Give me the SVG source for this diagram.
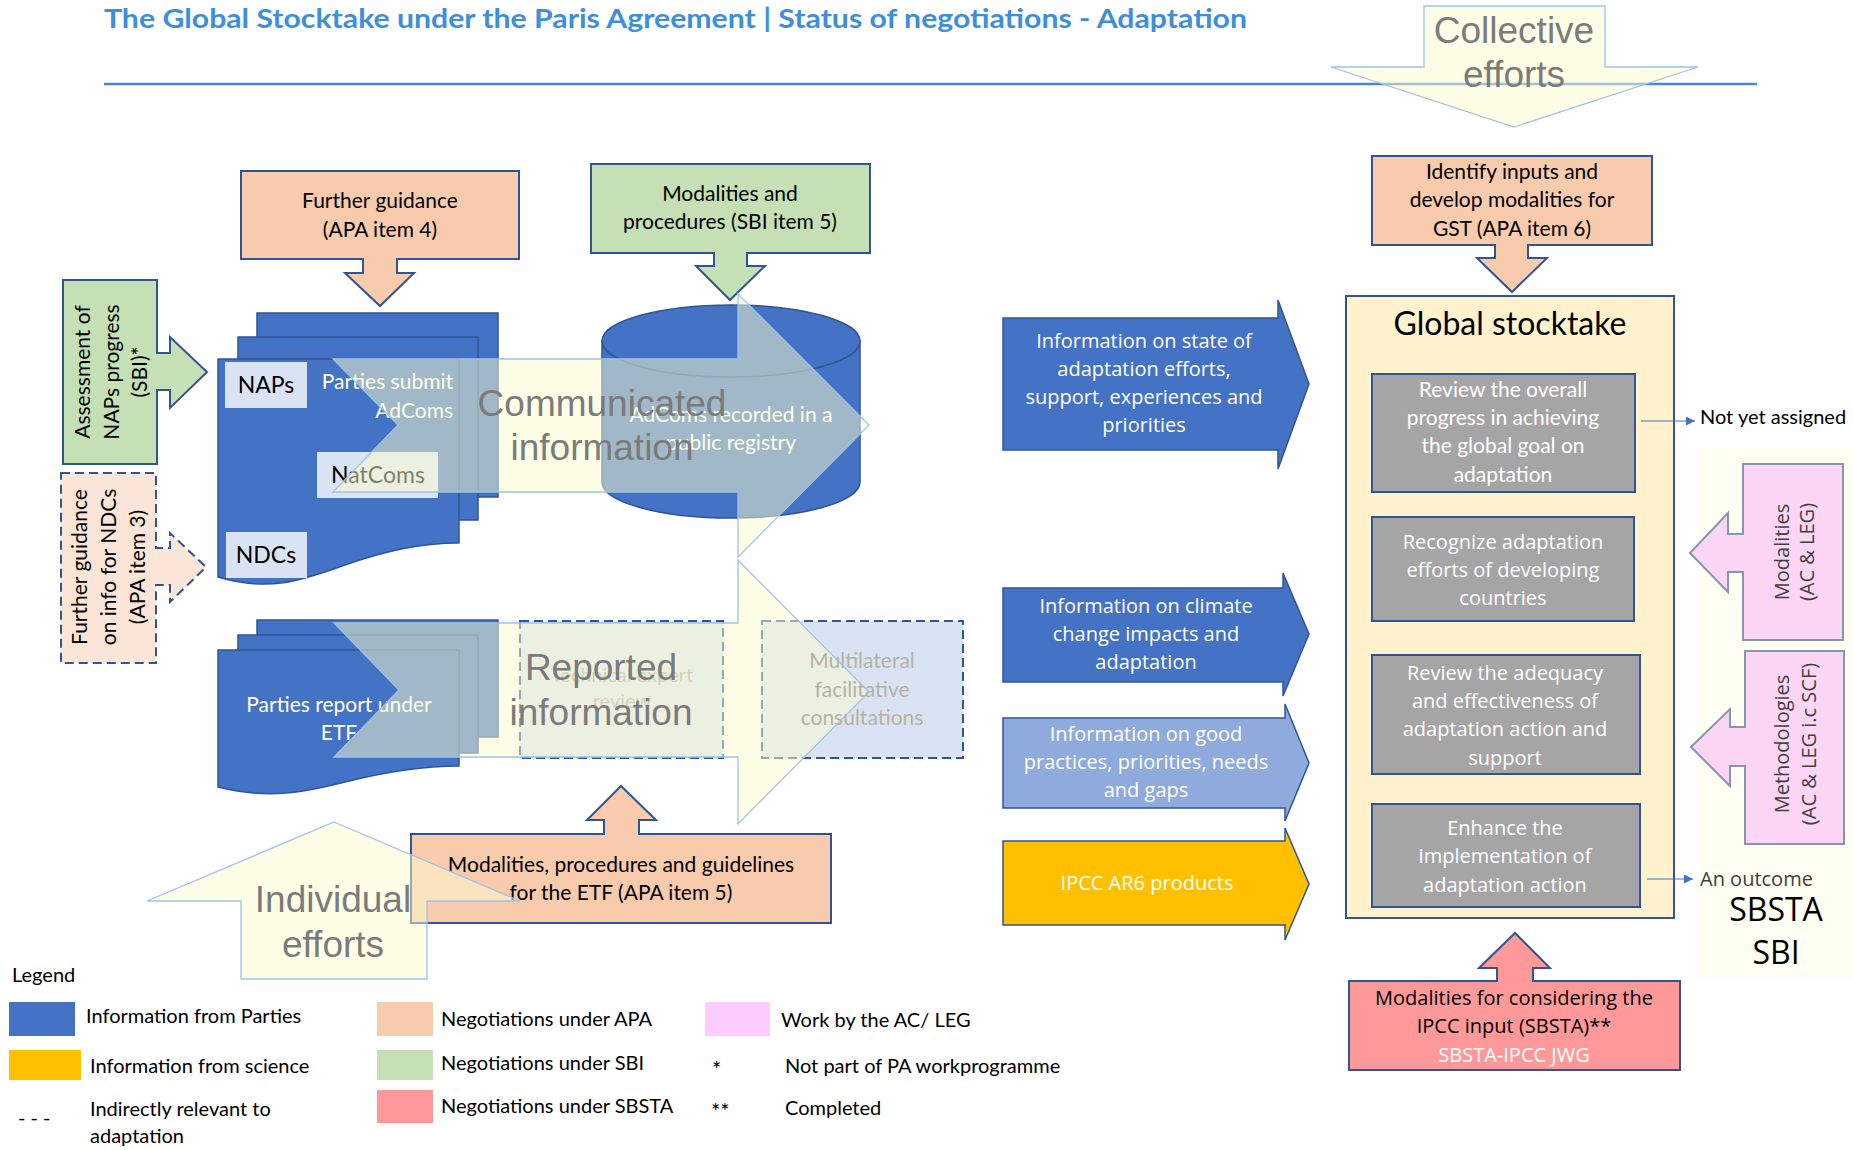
<svg xmlns="http://www.w3.org/2000/svg" width="1853" height="1150" viewBox="0 0 1853 1150">
<style>
.cal{font-family:Lato,"Liberation Sans",sans-serif}
.seg{font-family:"Open Sans","Liberation Sans",sans-serif}
.ar{font-family:"Liberation Sans",Arial,sans-serif}
.apa{fill:#f8cbad;stroke:#2f5597;stroke-width:2}
.sbi{fill:#c5e0b4;stroke:#2f5597;stroke-width:2}
.sbsta{fill:#ff9999;stroke:#2f5597;stroke-width:2}
.apad{fill:#fbe5d6;stroke:#2f5597;stroke-width:2;stroke-dasharray:9 5}
.doc{fill:#4472c4;stroke:#2f5597;stroke-width:1.5}
.lbl{fill:#dae3f3}
.dash{fill:#dae3f3;stroke:#2f5597;stroke-width:2;stroke-dasharray:9 5}
.ylw{fill:#fdfdcd;fill-opacity:.5;stroke:#9dc3e6;stroke-width:1.3}
.big{font-family:"Liberation Sans",Arial,sans-serif;font-size:37px;fill:#7b7b7b;text-anchor:middle}
.gry{fill:#a5a5a5;stroke:#2f5597;stroke-width:2}
.pink{fill:#fcd6f4;stroke:#8496b0;stroke-width:2}
.t20{font-size:20px}
.t21{font-size:21px}
.mid{text-anchor:middle}
.wt{fill:#ffffff}
.bk{fill:#000000}
</style>

<g id="title">
<text x="104" y="28" class="cal" font-size="26" font-weight="bold" fill="#3d8edb" textLength="1143" lengthAdjust="spacingAndGlyphs">The Global Stocktake under the Paris Agreement | Status of negotiations - Adaptation</text>
<line x1="104" y1="84" x2="1757" y2="84" stroke="#4a86d6" stroke-width="2.5"/>
</g>

<g id="legend" class="cal t20 bk">
<text x="12" y="982">Legend</text>
<rect x="9" y="1002" width="66" height="34" fill="#4472c4"/>
<text x="86" y="1023">Information from Parties</text>
<rect x="9" y="1050" width="72" height="30" fill="#ffc000"/>
<text x="90" y="1073">Information from science</text>
<text x="18" y="1125">- - -</text>
<text x="90" y="1116">Indirectly relevant to</text>
<text x="90" y="1143">adaptation</text>
<rect x="377" y="1002" width="56" height="34" fill="#f8cbad"/>
<text x="441" y="1026">Negotiations under APA</text>
<rect x="377" y="1050" width="56" height="30" fill="#c5e0b4"/>
<text x="441" y="1070">Negotiations under SBI</text>
<rect x="377" y="1090" width="56" height="33" fill="#ff9999"/>
<text x="441" y="1113">Negotiations under SBSTA</text>
<rect x="705" y="1002" width="65" height="34" fill="#ffccff"/>
<text x="781" y="1027">Work by the AC/ LEG</text>
<text x="712" y="1077" font-size="22">*</text>
<text x="785" y="1073">Not part of PA workprogramme</text>
<text x="711" y="1119" font-size="22">**</text>
<text x="785" y="1115">Completed</text>
</g>

<g id="further-guidance-apa4">
<path class="apa" d="M241,171 H519 V259 H397 V273 H414 L380,306 L345,273 H363 V259 H241 Z"/>
<text class="cal t21 mid bk" x="380" y="208">Further guidance</text>
<text class="cal t21 mid bk" x="380" y="237">(APA item 4)</text>
</g>

<g id="modalities-sbi5">
<path class="sbi" d="M591,164 H870 V253 H747 V266 H765 L730,300 L696,266 H714 V253 H591 Z"/>
<text class="cal t21 mid bk" x="730" y="201">Modalities and</text>
<text class="cal t21 mid bk" x="730" y="229">procedures (SBI item 5)</text>
</g>

<g id="assessment-naps">
<path class="sbi" d="M63,280 H157 V353 H170 V337 L207,372 L170,408 V390 H157 V464 H63 Z"/>
<text class="cal t21 mid bk" transform="translate(90,372) rotate(-90)"><tspan x="0" y="0">Assessment of</tspan><tspan x="0" y="28.5">NAPs progress</tspan><tspan x="0" y="57">(SBI)*</tspan></text>
</g>

<g id="further-guidance-apa3">
<path class="apad" d="M61,473 H156 V548 H170 V533 L206,567 L170,602 V585 H156 V663 H61 Z"/>
<text class="cal t21 mid bk" transform="translate(87,567) rotate(-90)"><tspan x="0" y="0">Further guidance</tspan><tspan x="0" y="29">on info for NDCs</tspan><tspan x="0" y="58">(APA item 3)</tspan></text>
</g>

<g id="adcoms-docs">
<rect class="doc" x="257" y="313" width="241" height="184"/>
<rect class="doc" x="238" y="337" width="240" height="183"/>
<path class="doc" d="M218,359 H459 V543 C420,543 385,551 345,565 C305,579 270,593 218,577 Z"/>
<rect class="lbl" x="225" y="362" width="82" height="46"/>
<text class="cal bk mid" font-size="23" x="266" y="393">NAPs</text>
<rect class="lbl" x="317" y="452" width="121" height="46"/>
<text class="cal bk mid" font-size="23" x="378" y="483">NatComs</text>
<rect class="lbl" x="226" y="532" width="81" height="46"/>
<text class="cal bk mid" font-size="23" x="266" y="563">NDCs</text>
<text class="cal t21 wt" text-anchor="end" x="453" y="389">Parties submit</text>
<text class="cal t21 wt" text-anchor="end" x="453" y="418">AdComs</text>
</g>

<g id="registry">
<path class="doc" d="M602,341 V482 A129,36 0 0 0 860,482 V341 Z"/>
<ellipse class="doc" cx="731" cy="341" rx="129" ry="36"/>
<text class="cal t21 wt mid" x="731" y="422">AdComs recorded in a</text>
<text class="cal t21 wt mid" x="731" y="450">public registry</text>
</g>

<g id="etf-docs">
<rect class="doc" x="257" y="620" width="241" height="117"/>
<rect class="doc" x="238" y="635" width="240" height="118"/>
<path class="doc" d="M218,650 H459 V766 C420,766 385,772 345,782 C305,792 270,800 218,787 Z"/>
<text class="cal t21 wt mid" x="339" y="712">Parties report under</text>
<text class="cal t21 wt mid" x="339" y="740">ETF</text>
</g>

<g id="technical-review">
<rect class="dash" x="520" y="621" width="203" height="137"/>
<text class="cal t20 mid" fill="#a6a6a6" x="622" y="682">Technical expert</text>
<text class="cal t20 mid" fill="#a6a6a6" x="622" y="708">review</text>
</g>

<g id="multilateral">
<rect class="dash" x="762" y="621" width="201" height="137"/>
</g>

<g id="modalities-etf">
<path class="apa" d="M411,834 H604 V820 H587 L621,786 L656,820 H639 V834 H831 V923 H411 Z"/>
<text class="cal t21 mid bk" x="621" y="872">Modalities, procedures and guidelines</text>
<text class="cal t21 mid bk" x="621" y="900">for the ETF (APA item 5)</text>
</g>

<g id="communicated-information">
<path class="ylw" d="M333,359 H738 V294 L869,425 L738,557 V492 H333 L398,425 Z"/>
<text class="big" x="602" y="416">Communicated</text>
<text class="big" x="602" y="460">information</text>
</g>

<g id="reported-information">
<path class="ylw" d="M334,623 H738 V560 L869,692 L738,824 V757 H334 L399,690 Z"/>
<text class="cal t21 mid" fill="#b5b3a0" x="862" y="668">Multilateral</text>
<text class="cal t21 mid" fill="#b5b3a0" x="862" y="697">facilitative</text>
<text class="cal t21 mid" fill="#b5b3a0" x="862" y="725">consultations</text>
<text class="big" x="601" y="680">Reported</text>
<text class="big" x="601" y="725">information</text>
</g>

<g id="individual-efforts">
<path class="ylw" d="M334,822 L520,901 H427 V979 H241 V901 H147 Z"/>
<text class="big" x="333" y="912">Individual</text>
<text class="big" x="333" y="957">efforts</text>
</g>

<g id="collective-efforts">
<path class="ylw" d="M1424,6 H1605 V67 H1698 L1514,127 L1331,67 H1424 Z"/>
<text class="big" x="1514" y="43">Collective</text>
<text class="big" x="1514" y="87">efforts</text>
</g>

<g id="info-state">
<path class="doc" d="M1003,318 H1278 V300 L1309,384 L1278,469 V450 H1003 Z"/>
<text class="seg t20 wt mid" x="1144" y="348">Information on state of</text>
<text class="seg t20 wt mid" x="1144" y="376">adaptation efforts,</text>
<text class="seg t20 wt mid" x="1144" y="404">support, experiences and</text>
<text class="seg t20 wt mid" x="1144" y="432">priorities</text>
</g>

<g id="info-climate">
<path class="doc" d="M1003,588 H1283 V573 L1309,634 L1283,696 V682 H1003 Z"/>
<text class="seg t20 wt mid" x="1146" y="613">Information on climate</text>
<text class="seg t20 wt mid" x="1146" y="641">change impacts and</text>
<text class="seg t20 wt mid" x="1146" y="669">adaptation</text>
</g>

<g id="info-good-practices">
<path d="M1003,718 H1285 V704 L1309,763 L1285,821 V808 H1003 Z" fill="#8faadc" stroke="#2f5597" stroke-width="1.5"/>
<text class="seg t20 wt mid" x="1146" y="741">Information on good</text>
<text class="seg t20 wt mid" x="1146" y="769">practices, priorities, needs</text>
<text class="seg t20 wt mid" x="1146" y="797">and gaps</text>
</g>

<g id="ipcc-ar6">
<path d="M1003,841 H1285 V828 L1309,884 L1285,940 V925 H1003 Z" fill="#ffc000" stroke="#2f5597" stroke-width="1.5"/>
<text class="seg t20 wt mid" x="1147" y="890">IPCC AR6 products</text>
</g>

<g id="identify-inputs">
<path class="apa" d="M1372,156 H1652 V245 H1528 V258 H1547 L1512,292 L1477,258 H1495 V245 H1372 Z"/>
<text class="cal t21 mid bk" x="1512" y="179">Identify inputs and</text>
<text class="cal t21 mid bk" x="1512" y="207">develop modalities for</text>
<text class="cal t21 mid bk" x="1512" y="236">GST (APA item 6)</text>
</g>

<g id="right-panel">
<rect x="1697" y="448" width="156" height="530" fill="#fefef2"/>
</g>

<g id="global-stocktake">
<rect x="1346" y="296" width="328" height="622" fill="#fff2cc" stroke="#2f5597" stroke-width="2"/>
<text class="cal bk mid" font-size="32" x="1510" y="335">Global stocktake</text>
</g>

<g id="review-progress">
<rect class="gry" x="1372" y="374" width="263" height="118"/>
<text class="cal t21 wt mid" x="1503" y="397">Review the overall</text>
<text class="cal t21 wt mid" x="1503" y="425">progress in achieving</text>
<text class="cal t21 wt mid" x="1503" y="453">the global goal on</text>
<text class="cal t21 wt mid" x="1503" y="482">adaptation</text>
</g>

<g id="recognize-efforts">
<rect class="gry" x="1372" y="517" width="262" height="104"/>
<text class="seg t20 wt mid" x="1503" y="549">Recognize adaptation</text>
<text class="seg t20 wt mid" x="1503" y="577">efforts of developing</text>
<text class="seg t20 wt mid" x="1503" y="605">countries</text>
</g>

<g id="review-adequacy">
<rect class="gry" x="1372" y="655" width="268" height="119"/>
<text class="seg t20 wt mid" x="1505" y="680">Review the adequacy</text>
<text class="seg t20 wt mid" x="1505" y="708">and effectiveness of</text>
<text class="seg t20 wt mid" x="1505" y="736">adaptation action and</text>
<text class="seg t20 wt mid" x="1505" y="765">support</text>
</g>

<g id="enhance-implementation">
<rect class="gry" x="1372" y="804" width="268" height="103"/>
<text class="seg t20 wt mid" x="1505" y="835">Enhance the</text>
<text class="seg t20 wt mid" x="1505" y="863">implementation of</text>
<text class="seg t20 wt mid" x="1505" y="892">adaptation action</text>
</g>

<g id="modalities-ac-leg">
<path class="pink" d="M1743,464 H1843 V640 H1743 V572 H1728 V592 L1690,553 L1728,513 V534 H1743 Z"/>
<text class="seg t20 mid" fill="#404040" transform="translate(1789,552) rotate(-90)"><tspan x="0" y="0">Modalities</tspan><tspan x="0" y="25">(AC &amp; LEG)</tspan></text>
</g>

<g id="methodologies">
<path class="pink" d="M1745,651 H1844 V844 H1745 V766 H1730 V786 L1691,747 L1730,709 V727 H1745 Z"/>
<text class="seg t20 mid" fill="#404040" transform="translate(1789,744) rotate(-90)"><tspan x="0" y="0">Methodologies</tspan><tspan x="0" y="27">(AC &amp; LEG i.c SCF)</tspan></text>
</g>

<g id="not-yet-assigned">
<text class="cal t20 bk" x="1700" y="424">Not yet assigned</text>
</g>

<g id="an-outcome">
<text class="seg t20" fill="#404040" x="1700" y="886">An outcome</text>
<text class="seg mid bk" font-size="32" x="1776" y="921">SBSTA</text>
<text class="seg mid bk" font-size="32" x="1776" y="964">SBI</text>
</g>

<g id="ipcc-modalities">
<path class="sbsta" d="M1349,981 H1497 V968 H1479 L1515,933 L1550,968 H1533 V981 H1680 V1070 H1349 Z"/>
<text class="seg t20 mid bk" x="1514" y="1005">Modalities for considering the</text>
<text class="seg t20 mid bk" x="1514" y="1033">IPCC input (SBSTA)**</text>
<text class="seg t20 mid wt" x="1514" y="1062">SBSTA-IPCC JWG</text>
</g>

<defs>
<marker id="ah" viewBox="0 0 10 10" refX="10" refY="5" markerWidth="9" markerHeight="9" markerUnits="userSpaceOnUse" orient="auto">
<path d="M0,0 L10,5 L0,10 Z" fill="#4472c4"/>
</marker>
</defs>
<g id="connectors" stroke="#4472c4" stroke-width="1.2" fill="none">
<line x1="1641" y1="421" x2="1695" y2="421" marker-end="url(#ah)"/>
<line x1="1647" y1="879" x2="1693" y2="879" marker-end="url(#ah)"/>
</g>
</svg>
